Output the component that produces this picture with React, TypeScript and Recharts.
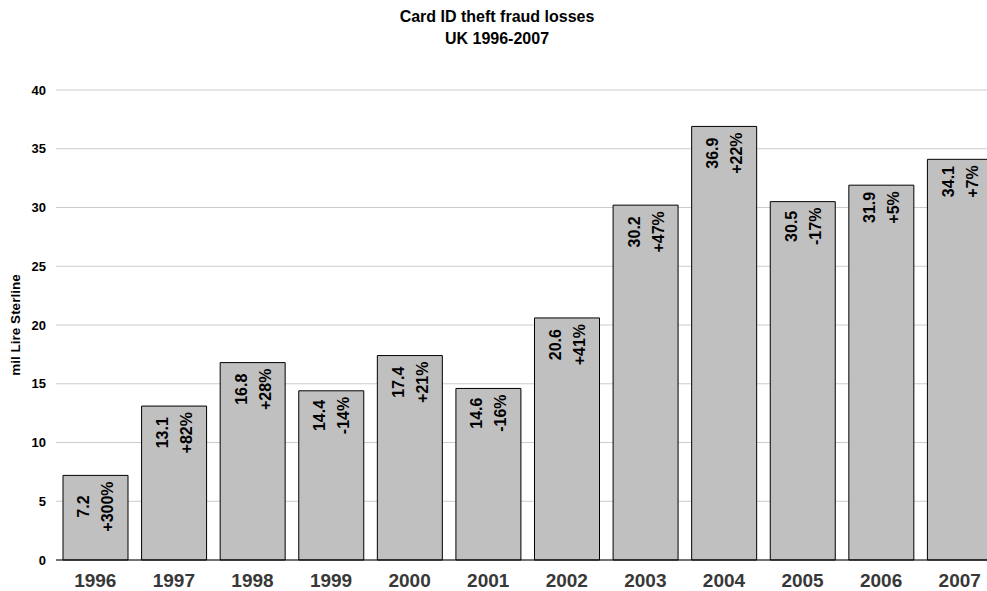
import React from 'react';
import { BarChart, Bar, XAxis, YAxis, CartesianGrid, LabelList } from 'recharts';

const years = ['1996', '1997', '1998', '1999', '2000', '2001', '2002', '2003', '2004', '2005', '2006', '2007'];
const losses = [7.2, 13.1, 16.8, 14.4, 17.4, 14.6, 20.6, 30.2, 36.9, 30.5, 31.9, 34.1];
const changes = ['+300%', '+82%', '+28%', '-14%', '+21%', '-16%', '+41%', '+47%', '+22%', '-17%', '+5%', '+7%'];
const yTicks = [0, 5, 10, 15, 20, 25, 30, 35, 40];

const data = years.map((year, i) => ({ year, loss: losses[i], change: changes[i] }));

const FONT = '"Liberation Sans", Arial, sans-serif';
const LABEL_SIZE = 16;

// rough Arial Bold advance widths (em units) for the label glyphs
const glyphWidth: Record<string, number> = { '.': 0.278, '+': 0.584, '-': 0.333, '%': 0.889 };
const textWidth = (s: string) =>
    s.split('').reduce((w, ch) => w + (glyphWidth[ch] ?? 0.556), 0) * LABEL_SIZE;

// value + yearly change, written upwards just under the top of each bar
const renderBarLabel = (props: any) => {
    const { x, y, width, index } = props;
    const lines = [losses[index].toFixed(1), changes[index]];
    const cx = Number(x) + Number(width) / 2;
    const cy = Number(y) + 6 + Math.max(...lines.map(textWidth)) / 2;
    return (
        <text
            transform={`rotate(-90, ${cx}, ${cy})`}
            textAnchor="middle"
            dominantBaseline="central"
            fontFamily={FONT}
            fontSize={LABEL_SIZE}
            fontWeight="bold"
            fill="#000"
        >
            <tspan x={cx} y={cy - 12}>{lines[0]}</tspan>
            <tspan x={cx} y={cy + 12}>{lines[1]}</tspan>
        </text>
    );
};

export default function App() {
    return (
        <div style={{ position: 'absolute', left: 0, top: 0, width: 987, height: 591, overflow: 'hidden', background: '#fff' }}>
            <BarChart width={999} height={591} data={data} margin={{ top: 90, right: 0, bottom: 0, left: 0 }}>
                <CartesianGrid vertical={false} stroke="#cccccc" />
                <XAxis
                    dataKey="year"
                    height={31}
                    tickLine={false}
                    tickSize={0}
                    tickMargin={14}
                    axisLine={{ stroke: '#000' }}
                    interval={0}
                    tick={{ fontFamily: FONT, fontSize: 19, fontWeight: 'bold', fill: '#383838' }}
                />
                <YAxis
                    width={56}
                    domain={[0, 40]}
                    ticks={yTicks}
                    interval={0}
                    axisLine={false}
                    tickLine={false}
                    tickSize={0}
                    tickMargin={10}
                    tick={{ fontFamily: FONT, fontSize: 13, fontWeight: 'bold', fill: '#000' }}
                />
                <Bar dataKey="loss" fill="#c0c0c0" stroke="#000" strokeWidth={1} barSize={65} isAnimationActive={false}>
                    <LabelList dataKey="loss" content={renderBarLabel} />
                </Bar>
            </BarChart>
            <svg width={987} height={591} style={{ position: 'absolute', left: 0, top: 0, pointerEvents: 'none' }}>
                <g fontFamily={FONT} fontWeight="bold" fill="#000">
                    <text x={497} y={22} fontSize={16} textAnchor="middle">Card ID theft fraud losses</text>
                    <text x={497} y={44} fontSize={16} textAnchor="middle">UK 1996-2007</text>
                    <text
                        x={15}
                        y={325}
                        fontSize={13.5}
                        textAnchor="middle"
                        dominantBaseline="central"
                        transform="rotate(-90, 15, 325)"
                    >
                        mil Lire Sterline
                    </text>
                </g>
            </svg>
        </div>
    );
}
